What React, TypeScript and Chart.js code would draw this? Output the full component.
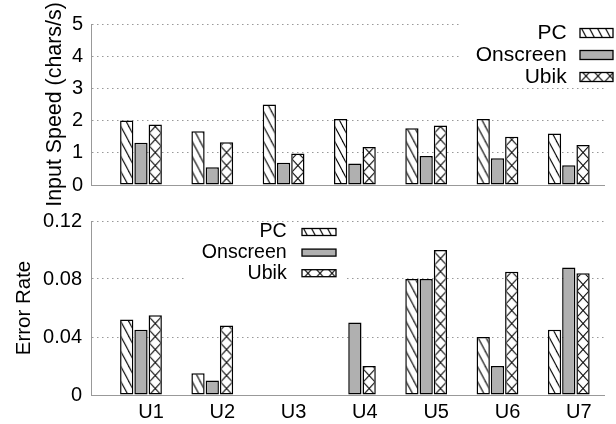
import React, { useEffect, useRef } from "react";
import { Chart, registerables } from "chart.js";

Chart.register(...registerables);

// ---------- data ----------
const categories = ["U1", "U2", "U3", "U4", "U5", "U6", "U7"];
const seriesNames = ["PC", "Onscreen", "Ubik"];
const speedPC = [2.0, 1.67, 2.5, 2.05, 1.76, 2.05, 1.6];
const speedOnscreen = [1.31, 0.55, 0.69, 0.67, 0.9, 0.83, 0.61];
const speedUbik = [1.88, 1.33, 0.98, 1.18, 1.85, 1.5, 1.24];
const errPC = [0.052, 0.015, 0, 0, 0.08, 0.04, 0.045];
const errOnscreen = [0.045, 0.01, 0, 0.05, 0.08, 0.02, 0.088];
const errUbik = [0.055, 0.048, 0, 0.02, 0.1, 0.085, 0.084];
const speedTicks = [0, 1, 2, 3, 4, 5];
const errorTicks = [0, 0.04, 0.08, 0.12];

// ---------- styles ----------
const FONT = "'Liberation Sans', Arial, Helvetica, sans-serif";
const GRAY_FILL = "#b0b0b0";
const CAT_PCT = 0.6;
const BAR_PCT = 0.93;
const kinds = ["hatch", "solid", "cross"];

function makeTile(kind: string): HTMLCanvasElement {
  const c = document.createElement("canvas");
  const w = kind === "hatch" ? 8 : 12;
  const h = kind === "hatch" ? 15 : 13;
  c.width = w;
  c.height = h;
  const g = c.getContext("2d")!;
  g.fillStyle = "#fff";
  g.fillRect(0, 0, w, h);
  g.strokeStyle = "#000";
  g.lineWidth = 1.1;
  for (const dx of [-w, 0, w]) {
    for (const dy of [-h, 0, h]) {
      g.beginPath();
      g.moveTo(dx, dy);
      g.lineTo(dx + w, dy + h);
      g.stroke();
      if (kind === "cross") {
        g.beginPath();
        g.moveTo(dx + w, dy);
        g.lineTo(dx, dy + h);
        g.stroke();
      }
    }
  }
  return c;
}

const tiles: Record<string, HTMLCanvasElement> = {};
function getTile(kind: string) {
  if (!tiles[kind]) tiles[kind] = makeTile(kind);
  return tiles[kind];
}

function bgFor(kind: string) {
  if (kind === "solid") return GRAY_FILL;
  return (c: any) => {
    const chart = c.chart;
    const pat = chart.ctx.createPattern(getTile(kind), "repeat");
    if (c.type === "data" && chart.scales && chart.scales.x && chart.scales.y) {
      const xs = chart.scales.x;
      const ys = chart.scales.y;
      const unit = xs.getPixelForValue(2) - xs.getPixelForValue(1);
      const chunk = (unit * CAT_PCT) / 3;
      const center = xs.getPixelForValue(c.dataIndex + 1) + (c.datasetIndex - 1) * chunk;
      const w = chunk * BAR_PCT;
      const tx = kind === "cross" ? center - 6 : center - w / 2;
      const ty = ys.getPixelForValue(0);
      try {
        pat.setTransform(new DOMMatrix([1, 0, 0, 1, tx, ty]));
      } catch (e) {}
    }
    return pat;
  };
}

const legendPlugin = {
  id: "boxLegend",
  afterDraw(chart: any, _args: any, o: any) {
    const ctx = chart.ctx;
    ctx.save();
    ctx.fillStyle = "#fff";
    ctx.fillRect(o.box[0], o.box[1], o.box[2], o.box[3]);
    ctx.font = `${o.fontSize}px ${FONT}`;
    ctx.textAlign = "right";
    ctx.textBaseline = "middle";
    chart.data.datasets.forEach((ds: any, i: number) => {
      const y = o.firstRowY + i * o.rowGap;
      ctx.fillStyle = "#000";
      ctx.fillText(ds.label, o.textRight, y);
      const sx = o.swatchX;
      const sy = y - o.swatchH / 2;
      const kind = kinds[i];
      let fill: any = GRAY_FILL;
      if (kind !== "solid") {
        fill = ctx.createPattern(getTile(kind), "repeat");
        try {
          fill.setTransform(new DOMMatrix([1, 0, 0, 1, sx, sy - 3]));
        } catch (e) {}
      }
      ctx.fillStyle = fill;
      ctx.fillRect(sx, sy, o.swatchW, o.swatchH);
      ctx.lineWidth = 1.3;
      ctx.strokeStyle = "#000";
      ctx.strokeRect(sx, sy, o.swatchW, o.swatchH);
    });
    ctx.restore();
  },
};

function datasetsFrom(values: number[][]) {
  return values.map((vals, i) => ({
    label: seriesNames[i],
    data: vals.map((v, j) => ({ x: j + 1, y: v })),
    backgroundColor: bgFor(kinds[i]),
    borderColor: "#000",
    borderWidth: 1.5,
    borderSkipped: false,
    categoryPercentage: CAT_PCT,
    barPercentage: BAR_PCT,
  }));
}

function xScale(showLabels: boolean, height: number) {
  return {
    type: "linear",
    offset: false,
    min: 0.299,
    max: 7.494,
    afterBuildTicks: (s: any) => {
      s.ticks = categories.map((_, i) => ({ value: i + 1 }));
    },
    afterFit: (s: any) => {
      s.height = height;
    },
    grid: { display: false, drawTicks: false, offset: false },
    border: { display: true, color: "#999", width: 1 },
    ticks: {
      display: showLabels,
      autoSkip: false,
      maxRotation: 0,
      padding: 5,
      labelOffset: 10,
      color: "#000",
      font: { family: FONT, size: 20 },
      callback: (v: any) => categories[Math.round(v) - 1] ?? "",
    },
  };
}

function yScale(max: number, tickVals: number[], title: string, titleSize: number, width: number, tickPad: number) {
  return {
    type: "linear",
    min: 0,
    max,
    afterBuildTicks: (s: any) => {
      s.ticks = tickVals.map((v) => ({ value: v }));
    },
    afterFit: (s: any) => {
      s.width = width;
    },
    grid: { color: "#999", lineWidth: 1, drawTicks: false },
    border: { display: true, color: "#999", width: 1, dash: [1.5, 3.5] },
    ticks: {
      padding: tickPad,
      color: "#000",
      font: { family: FONT, size: 20 },
      callback: (v: any) => String(Number(Number(v).toFixed(2))),
    },
    title: {
      display: true,
      text: title,
      color: "#000",
      padding: { top: 0, bottom: 0 },
      font: { family: FONT, size: titleSize, lineHeight: 1.2 },
    },
  };
}

export default function App() {
  const topRef = useRef<HTMLCanvasElement>(null);
  const botRef = useRef<HTMLCanvasElement>(null);

  useEffect(() => {
    const common = {
      responsive: false,
      devicePixelRatio: 1,
      animation: false,
      events: [],
    };
    const top = new Chart(topRef.current!, {
      type: "bar",
      data: { datasets: datasetsFrom([speedPC, speedOnscreen, speedUbik]) as any },
      plugins: [legendPlugin as any],
      options: {
        ...common,
        layout: { padding: { left: 42, right: 12, top: 24, bottom: 0 } },
        scales: {
          x: xScale(false, 27) as any,
          y: yScale(5, speedTicks, "Input Speed (chars/s)", 21.4, 49, 8) as any,
        },
        plugins: {
          legend: { display: false },
          tooltip: { enabled: false },
          boxLegend: {
            box: [462, 16, 154, 70],
            fontSize: 21,
            textRight: 566.7,
            swatchX: 580,
            swatchW: 33,
            swatchH: 9,
            firstRowY: 33,
            rowGap: 22,
          },
        } as any,
      } as any,
    });
    const bot = new Chart(botRef.current!, {
      type: "bar",
      data: { datasets: datasetsFrom([errPC, errOnscreen, errUbik]) as any },
      plugins: [legendPlugin as any],
      options: {
        ...common,
        layout: { padding: { left: 12, right: 12, top: 20, bottom: 0 } },
        scales: {
          x: xScale(true, 29) as any,
          y: yScale(0.12, errorTicks, "Error Rate", 20.5, 79, 9) as any,
        },
        plugins: {
          legend: { display: false },
          tooltip: { enabled: false },
          boxLegend: {
            box: [187, 23, 160, 60],
            fontSize: 19.6,
            textRight: 286.7,
            swatchX: 302,
            swatchW: 34,
            swatchH: 7,
            firstRowY: 32,
            rowGap: 20.6,
          },
        } as any,
      } as any,
    });
    return () => {
      top.destroy();
      bot.destroy();
    };
  }, []);

  return (
    <div style={{ position: "fixed", left: 0, top: 0, width: 616, height: 424, background: "#fff", overflow: "hidden" }}>
      <canvas ref={topRef} width={616} height={212} style={{ position: "absolute", left: 0, top: 0, width: 616, height: 212 }} />
      <canvas ref={botRef} width={616} height={224} style={{ position: "absolute", left: 0, top: 200, width: 616, height: 224 }} />
    </div>
  );
}
